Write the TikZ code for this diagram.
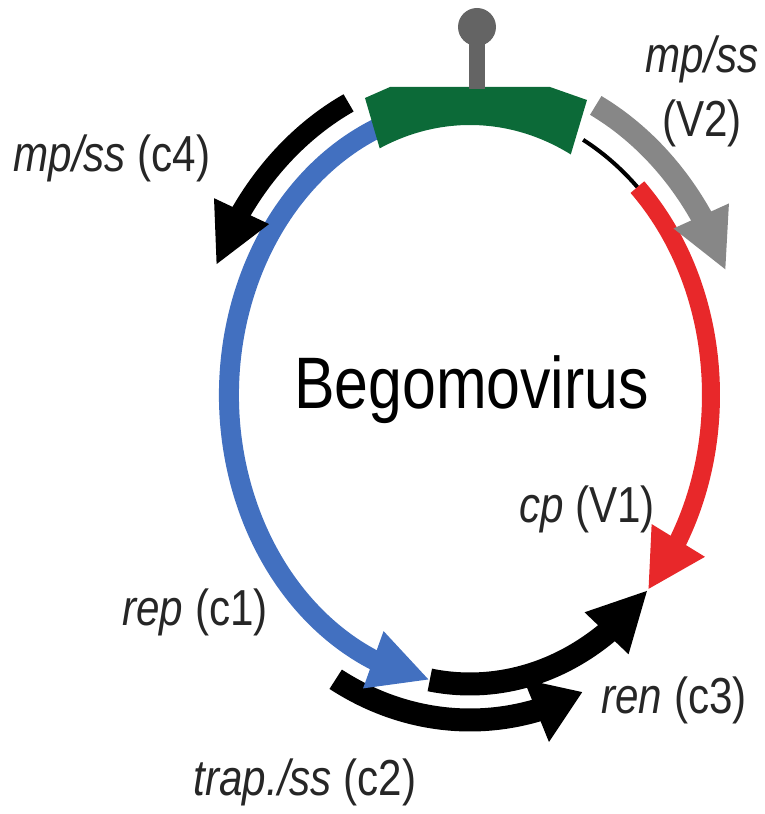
\documentclass[tikz,border=0pt]{standalone}
\usepackage{fontspec}
\setmainfont{Liberation Sans}
\usetikzlibrary{arrows.meta,bending}
\definecolor{genblue}{RGB}{66,112,192}
\definecolor{genred}{RGB}{232,40,42}
\definecolor{gengreen}{RGB}{12,106,56}
\definecolor{gengray}{RGB}{135,135,135}
\definecolor{stemgray}{RGB}{100,100,100}
\tikzset{every picture/.style={line width=0.75pt}}
\tikzset{
  gene/.style={line width=2mm,-{Triangle[width=5.6mm,length=6mm]}},
  lbl/.style={font=\fontsize{12}{15.4}\selectfont,text=black!85,yscale=1.2,anchor=base,align=center},
}

\begin{document}
\begin{tikzpicture}
    \useasboundingbox (-4.70,-4.19) rectangle (2.94,3.95);
    \draw[gene,black,line width=2.3mm,-{Triangle[width=6.4mm,length=5mm]}] (241:2.77 and 3.25) arc[start angle=241,end angle=294,x radius=2.77,y radius=3.25];
    \draw[gene,black,line width=2.3mm] (260.4:2.41 and 2.89) arc[start angle=260.4,end angle=317.6,x radius=2.41,y radius=2.89];
    \draw[gene,genblue] (112:2.41 and 2.89) arc[start angle=112,end angle=260.4,x radius=2.41,y radius=2.89];
    \draw[black,line width=0.4mm] (62:2.41 and 2.89) arc[start angle=62,end angle=45,x radius=2.41,y radius=2.89];
    \draw[gene,genred,line width=1.8mm,-{Triangle[width=5.8mm,length=5.8mm]}] (46:2.41 and 2.89) arc[start angle=46,end angle=-42.4,x radius=2.41,y radius=2.89];
    \draw[gene,gengray,line width=2.2mm] (63:2.77 and 3.25) arc[start angle=63,end angle=22.5,x radius=2.77,y radius=3.25];
    \draw[gene,black] (116:2.77 and 3.25) arc[start angle=116,end angle=156.5,x radius=2.77,y radius=3.25];
    \fill[gengreen] (-1.05,2.97) -- (-0.80,3.08) -- (0.80,3.08) -- (1.17,2.95) -- (63:2.22 and 2.70) arc[start angle=63,end angle=114,x radius=2.22,y radius=2.70] -- cycle;
    \draw[stemgray,line width=1.6mm] (0.07,3.06) -- (0.07,3.68);
    \fill[stemgray] (0.07,3.68) circle (0.19);
    \node[lbl] (mpc4) at (-3.58,2.23) {\textit{mp/ss} (c4)};
    \node[lbl] (mpv2) at (2.32,2.58) {\textit{mp/ss}\\(V2)};
    \node[lbl,font=\fontsize{17.3}{20}\selectfont,text=black] (title) at (0.015,-0.13) {Begomovirus};
    \node[lbl] (cpv1) at (1.17,-1.27) {\textit{cp} (V1)};
    \node[lbl] (repc1) at (-2.75,-2.30) {\textit{rep} (c1)};
    \node[lbl] (renc3) at (2.04,-3.18) {\textit{ren} (c3)};
    \node[lbl] (trapc2) at (-1.65,-4.00) {\textit{trap./ss} (c2)};
\end{tikzpicture}
\end{document}
